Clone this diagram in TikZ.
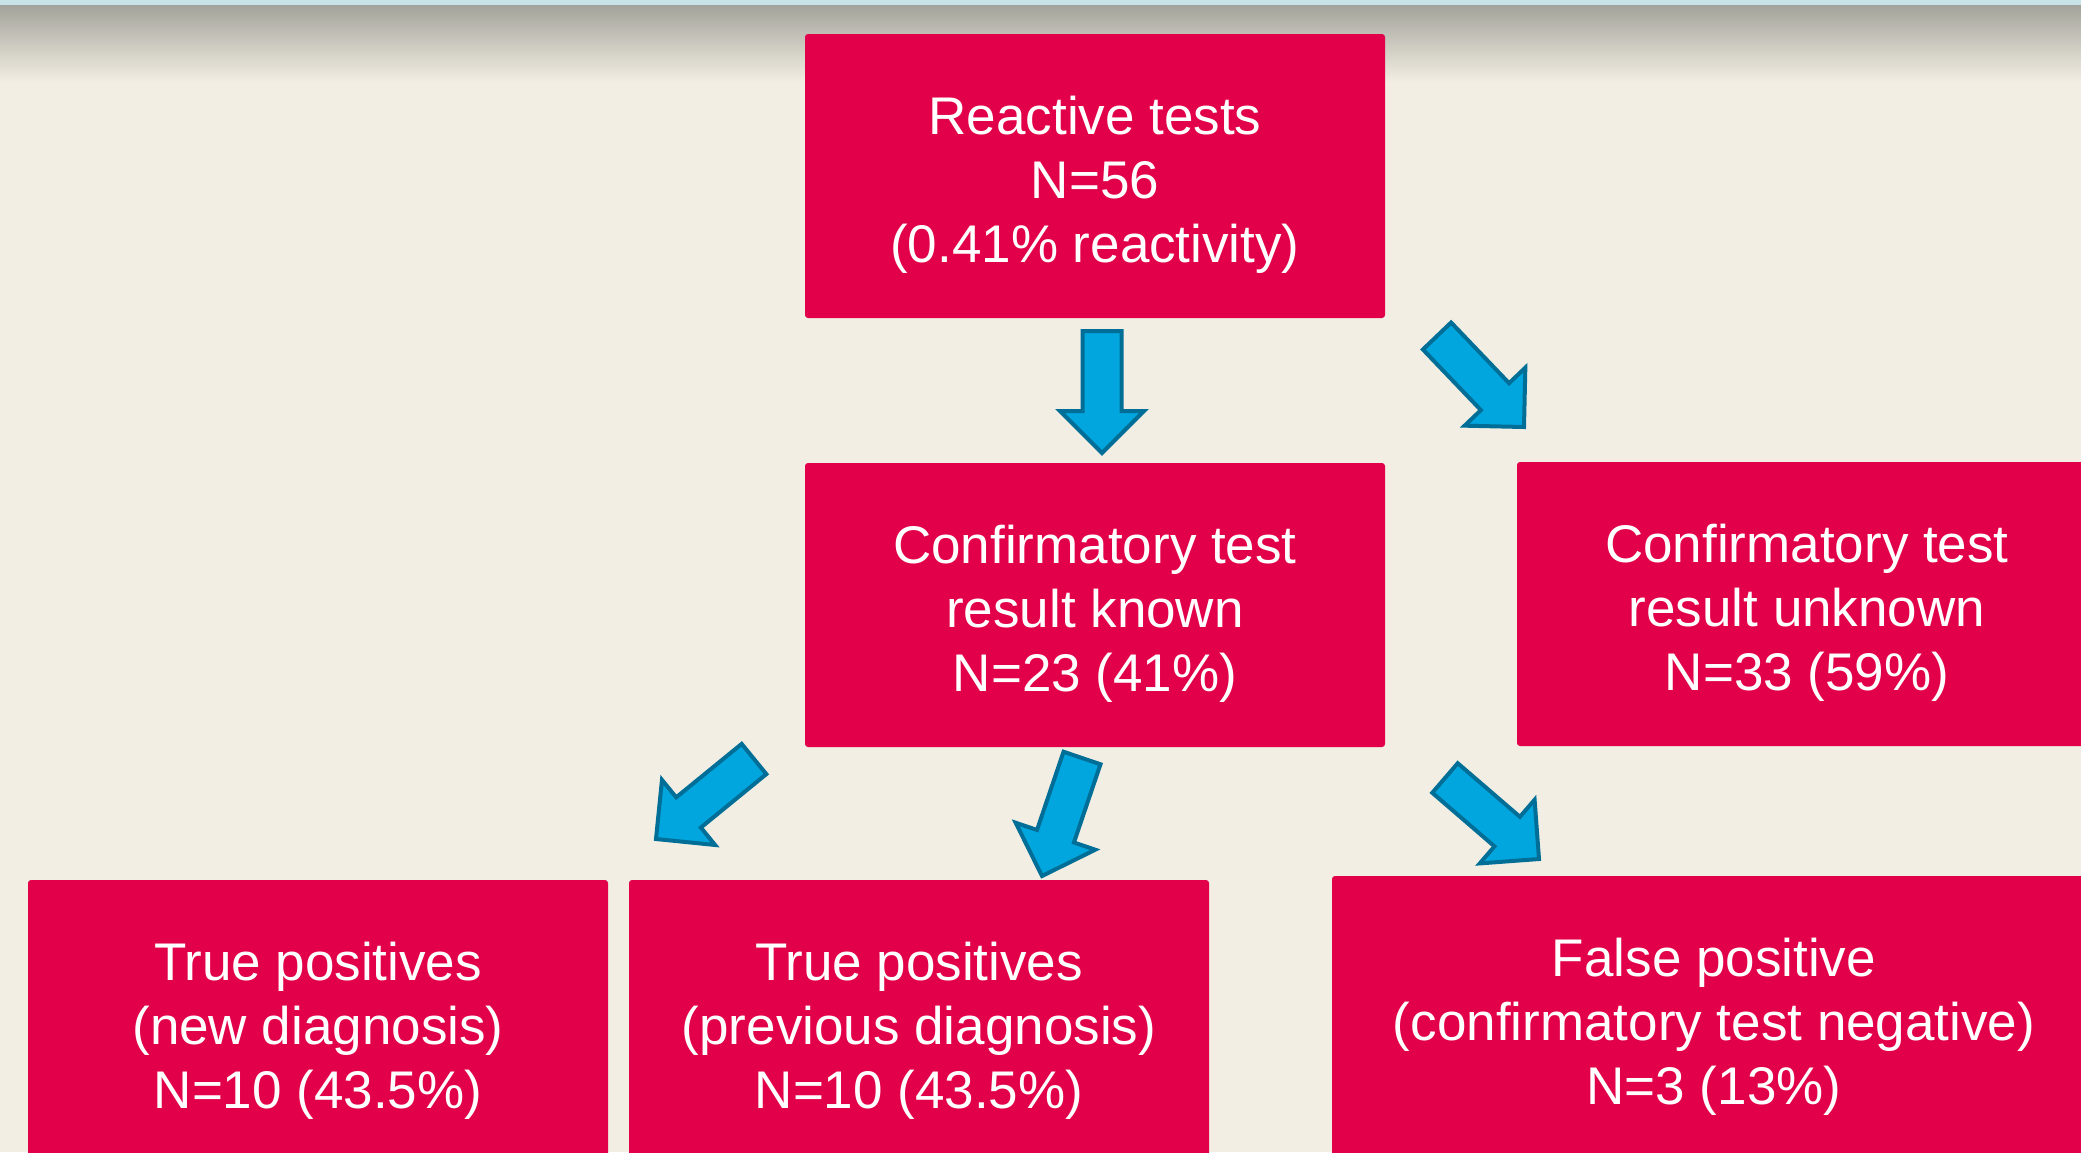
\documentclass[tikz,border=0pt]{standalone}
\usepackage{fontspec}
\setmainfont{Liberation Sans}
\usetikzlibrary{calc}
\definecolor{bg}{HTML}{F2EEE3}
\definecolor{boxred}{HTML}{E2004A}
\definecolor{arrfill}{HTML}{00A6DD}
\definecolor{arrline}{HTML}{006E96}
\definecolor{topblue}{HTML}{C8E3E8}
\definecolor{topgrey}{HTML}{A4A39B}
\tikzset{
  box/.style={rectangle, fill=boxred, rounded corners=3pt, minimum width=580pt,
    minimum height=284pt, inner sep=0pt, align=center, text=white,
    font=\fontsize{53}{64}\selectfont, text height=184pt, text depth=11pt},
  blockarr/.style={draw=arrline, fill=arrfill, line width=4pt, line join=miter},
}
\newcommand\blockarrow[2]{%
  \coordinate (ba-h) at ($(#2)!42pt!(#1)$);
  \draw[blockarr] ($(#1)!19.5pt!90:(#2)$) -- ($(ba-h)!19.5pt!-90:(#1)$)
    -- ($(ba-h)!42pt!-90:(#1)$) -- (#2) -- ($(ba-h)!42pt!90:(#1)$)
    -- ($(ba-h)!19.5pt!90:(#1)$) -- ($(#1)!19.5pt!-90:(#2)$) -- cycle;
}
\begin{document}
\begin{tikzpicture}[x=1pt,y=-1pt]
\useasboundingbox (0,0) rectangle (2081,1152);
\clip (0,0) rectangle (2081,1152);
\fill[bg] (0,0) rectangle (2081,1152);
\shade[top color=topgrey, bottom color=bg] (0,5) rectangle (2081,82);
\fill[topblue] (0,0) rectangle (2081,5);

\node[box] (react) at (1095,176) {Reactive tests\\N=56\\(0.41\% reactivity)};
\node[box] (known) at (1095,605) {Confirmatory test\\result known\\N=23 (41\%)};
\node[box] (unknown) at (1807,604) {Confirmatory test\\result unknown\\N=33 (59\%)};
\node[box] (tpnew) at (318,1022) {True positives\\(new diagnosis)\\N=10 (43.5\%)};
\node[box] (tpprev) at (919,1022) {True positives\\(previous diagnosis)\\N=10 (43.5\%)};
\node[box, minimum width=764pt] (fp) at (1714,1018) {False positive\\(confirmatory test negative)\\N=3 (13\%)};

\coordinate (a1s) at (1102,331); \coordinate (a1e) at (1102,453);
\coordinate (a2s) at (1437,336); \coordinate (a2e) at (1524,427);
\coordinate (a3s) at (754,759);  \coordinate (a3e) at (656,839);
\coordinate (a4s) at (1082,758); \coordinate (a4e) at (1042,876);
\coordinate (a5s) at (1445,778); \coordinate (a5e) at (1539,859);
\blockarrow{a1s}{a1e}
\blockarrow{a2s}{a2e}
\blockarrow{a3s}{a3e}
\blockarrow{a4s}{a4e}
\blockarrow{a5s}{a5e}
\end{tikzpicture}
\end{document}
